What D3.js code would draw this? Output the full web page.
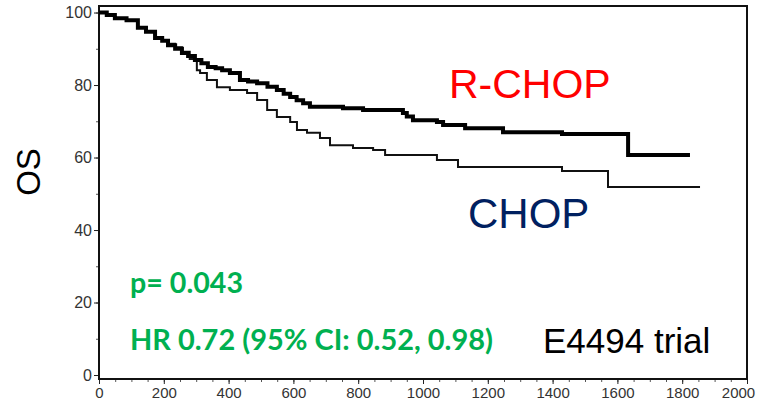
<!DOCTYPE html>
<html>
<head>
<meta charset="utf-8">
<script src="https://cdn.jsdelivr.net/npm/d3@7"></script>
<style>
  body { margin: 0; background: #fff; }
  svg { display: block; }
</style>
</head>
<body>
<div id="chart"></div>
<script>
// survival curves (days, % alive)
const rchopDays = [0, 24, 49, 85, 120, 145, 173, 195, 213, 235, 256, 275, 296, 316, 336, 360, 380, 404, 435, 460, 488, 520, 549, 570, 590, 610, 630, 651, 753, 815, 938, 950, 969, 1043, 1062, 1130, 1247, 1429, 1633, 1824];
const rchopOS   = [100, 99.3, 98.4, 97.9, 95.8, 94.7, 93.0, 92.2, 91.0, 90.0, 88.8, 88.0, 86.9, 86.0, 85.0, 84.6, 84.1, 83.3, 81.4, 81.0, 80.5, 79.5, 78.6, 77.6, 76.7, 75.8, 75.0, 74.0, 73.6, 73.1, 72.3, 71.3, 70.3, 69.8, 69.0, 68.1, 67.0, 66.5, 60.7, 60.7];

const chopDays = [0, 24, 49, 85, 120, 145, 173, 195, 213, 235, 256, 280, 302, 312, 333, 364, 404, 457, 488, 519, 549, 590, 611, 642, 682, 713, 784, 846, 883, 1043, 1108, 1429, 1571, 1855];
const chopOS   = [100, 99.3, 98.4, 97.9, 95.8, 94.7, 93.0, 92.2, 91.4, 90.4, 89.2, 87.2, 84.1, 83.3, 81.4, 79.4, 78.6, 77.8, 75.9, 73.1, 71.2, 69.8, 67.6, 66.8, 65.4, 63.4, 62.6, 62.1, 60.7, 59.3, 57.4, 56.3, 51.9, 51.9];

const xTicks = [0, 200, 400, 600, 800, 1000, 1200, 1400, 1600, 1800, 2000];
const yTicks = [0, 20, 40, 60, 80, 100];

const width = 763;
const height = 406;

const svg = d3.select("#chart")
  .append("svg")
  .attr("width", width)
  .attr("height", height);

const x = d3.scaleLinear().domain([0, 2000]).range([99, 747]);
const y = d3.scaleLinear().domain([-1.1, 101.8]).range([379, 6]);

// minor ticks
svg.append("g")
  .attr("transform", `translate(0,${y.range()[0]})`)
  .call(d3.axisBottom(x).tickValues(d3.range(0, 2001, 50)).tickSize(3).tickFormat(""))
  .call(g => g.select(".domain").remove())
  .call(g => g.selectAll("line").attr("stroke", "#555"));

svg.append("g")
  .attr("transform", `translate(${x.range()[0]},0)`)
  .call(d3.axisLeft(y).tickValues(d3.range(0, 101, 10)).tickSize(3).tickFormat(""))
  .call(g => g.select(".domain").remove())
  .call(g => g.selectAll("line").attr("stroke", "#555"));

// major ticks + labels
svg.append("g")
  .attr("transform", `translate(0,${y.range()[0]})`)
  .call(d3.axisBottom(x).tickValues(xTicks).tickSize(5).tickPadding(3).tickFormat(d3.format("d")))
  .call(g => g.select(".domain").remove())
  .call(g => g.selectAll("line").attr("stroke", "#222"))
  .call(g => g.selectAll("text")
    .attr("font-family", "Liberation Sans, Arial, sans-serif")
    .attr("font-size", 15)
    .attr("fill", "#333"))
  // last label sits pulled in from the edge, like the scan
  .call(g => g.selectAll("text").filter(d => d === 2000).attr("dx", -9));

svg.append("g")
  .attr("transform", `translate(${x.range()[0]},0)`)
  .call(d3.axisLeft(y).tickValues(yTicks).tickSize(5).tickPadding(2))
  .call(g => g.select(".domain").remove())
  .call(g => g.selectAll("line").attr("stroke", "#222"))
  .call(g => g.selectAll("text")
    .attr("font-family", "Liberation Sans, Arial, sans-serif")
    .attr("font-size", 16)
    .attr("fill", "#333"));

// frame
svg.append("rect")
  .attr("x", x.range()[0])
  .attr("y", y.range()[1])
  .attr("width", x.range()[1] - x.range()[0])
  .attr("height", y.range()[0] - y.range()[1])
  .attr("fill", "none")
  .attr("stroke", "#111")
  .attr("stroke-width", 2);

const line = d3.line()
  .x(d => x(d[0]))
  .y(d => y(d[1]))
  .curve(d3.curveStepAfter);

svg.append("path")
  .datum(d3.zip(chopDays, chopOS))
  .attr("d", line)
  .attr("fill", "none")
  .attr("stroke", "#111")
  .attr("stroke-width", 2);

svg.append("path")
  .datum(d3.zip(rchopDays, rchopOS))
  .attr("d", line)
  .attr("fill", "none")
  .attr("stroke", "#000")
  .attr("stroke-width", 4);

// labels
svg.append("text")
  .attr("transform", "translate(40,172) rotate(-90)")
  .attr("text-anchor", "middle")
  .attr("font-family", "Liberation Sans, Arial, sans-serif")
  .attr("font-size", 33)
  .text("OS");

svg.append("text")
  .attr("x", 449).attr("y", 98)
  .attr("font-family", "Liberation Sans, Arial, sans-serif")
  .attr("font-size", 41)
  .attr("fill", "#ff0000")
  .text("R-CHOP");

svg.append("text")
  .attr("x", 468).attr("y", 228)
  .attr("font-family", "Liberation Sans, Arial, sans-serif")
  .attr("font-size", 42)
  .attr("fill", "#002060")
  .text("CHOP");

svg.append("text")
  .attr("x", 543).attr("y", 353)
  .attr("font-family", "Liberation Sans, Arial, sans-serif")
  .attr("font-size", 35)
  .attr("fill", "#000")
  .text("E4494 trial");

svg.append("text")
  .attr("x", 130).attr("y", 293)
  .attr("font-family", "Lato, Open Sans, sans-serif")
  .attr("font-weight", "bold")
  .attr("font-size", 29)
  .attr("fill", "#00b050")
  .attr("textLength", 113)
  .attr("lengthAdjust", "spacingAndGlyphs")
  .text("p= 0.043");

svg.append("text")
  .attr("x", 130).attr("y", 350)
  .attr("font-family", "Lato, Open Sans, sans-serif")
  .attr("font-weight", "bold")
  .attr("font-size", 29)
  .attr("fill", "#00b050")
  .attr("textLength", 363)
  .attr("lengthAdjust", "spacingAndGlyphs")
  .text("HR 0.72 (95% CI: 0.52, 0.98)");
</script>
</body>
</html>
